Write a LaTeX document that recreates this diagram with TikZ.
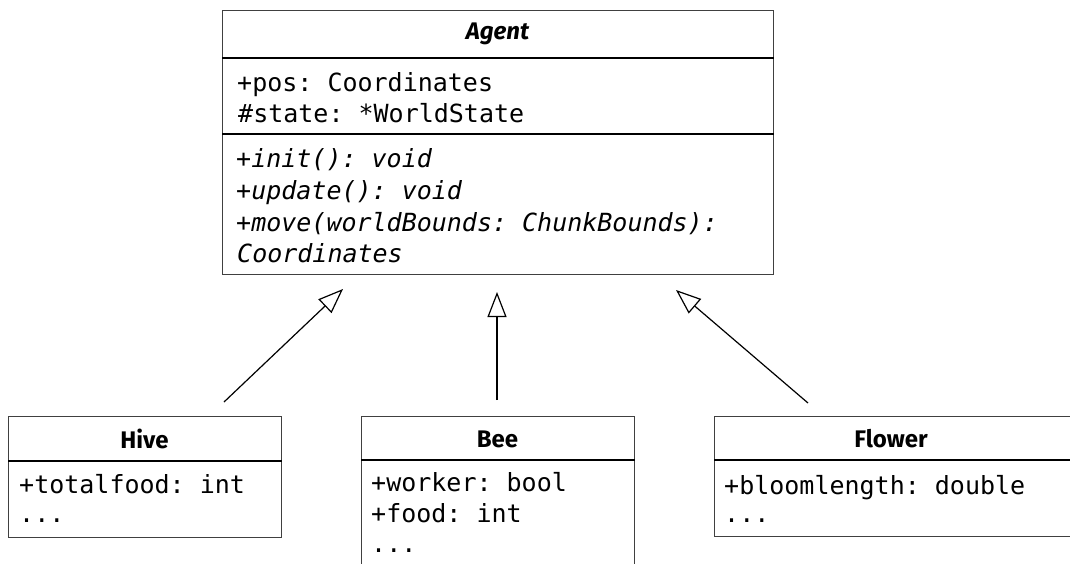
\documentclass[tikz,border=0pt]{standalone}
\usepackage{fontspec}
\setmainfont{Fira Sans}
\setmonofont{DejaVu Sans Mono}
\usetikzlibrary{arrows.meta}
\tikzset{
  classbox/.style={draw=black!75, line width=1.2pt, anchor=north west, inner sep=0pt},
  divider/.style={draw=black, line width=1.2pt},
  ttl/.style={font=\fontsize{24}{28}\selectfont\bfseries, inner sep=0pt},
  mem/.style={font=\fontsize{25}{30}\selectfont\ttfamily, anchor=base west, inner sep=0pt},
  memit/.style={font=\fontsize{25}{30}\selectfont\ttfamily\itshape, anchor=base west, inner sep=0pt},
  inherit/.style={draw=black, line width=1.2pt, -{Triangle[open, length=25pt, width=19pt, line width=1.2pt]}},
}
\begin{document}
\begin{tikzpicture}[x=1pt, y=-1pt]
\useasboundingbox (0,0) rectangle (1070,563);
\clip (0,0) rectangle (1070,563);
% Agent
\node[classbox, minimum width=551pt, minimum height=264pt] (agent) at (222,10) {};
\draw[divider] (agent.west |- 0,58) -- (agent.east |- 0,58);
\draw[divider] (agent.west |- 0,134) -- (agent.east |- 0,134);
\node[ttl] (agentT) at (497.5,34) {\itshape Agent};
\node[mem] (a1) at (237,91) {+pos: Coordinates};
\node[mem] (a2) at (238,122) {\#state: *WorldState};
\node[memit] (a3) at (236,167) {+init(): void};
\node[memit] (a4) at (236,199) {+update(): void};
\node[memit] (a5) at (236,231) {+move(worldBounds: ChunkBounds):};
\node[memit] (a6) at (237,262) {Coordinates};
% Hive
\node[classbox, minimum width=273pt, minimum height=121pt] (hive) at (8,416) {};
\draw[divider] (hive.west |- 0,461) -- (hive.east |- 0,461);
\node[ttl] (hiveT) at (144.5,439) {Hive};
\node[mem] (h1) at (19,493) {+totalfood: int};
\node[mem] (h2) at (19,522) {...};
% Bee
\node[classbox, minimum width=273pt, minimum height=180pt] (bee) at (361,416) {};
\draw[divider] (bee.west |- 0,460) -- (bee.east |- 0,460);
\node[ttl] (beeT) at (497.5,439) {Bee};
\node[mem] (b1) at (371,491) {+worker: bool};
\node[mem] (b2) at (371,522) {+food: int};
\node[mem] (b3) at (371,552) {...};
% Flower
\node[classbox, minimum width=358pt, minimum height=120pt] (flower) at (714,416) {};
\draw[divider] (flower.west |- 0,460) -- (flower.east |- 0,460);
\node[ttl] (flowerT) at (891,439) {Flower};
\node[mem] (f1) at (724,494) {+bloomlength: double};
\node[mem] (f2) at (724,522) {...};
% arrows
\coordinate (hTail) at (224,402);
\coordinate (hTip) at (343,289);
\coordinate (bTail) at (497,400);
\coordinate (bTip) at (497,292);
\coordinate (fTail) at (808,403);
\coordinate (fTip) at (676,290);
\draw[inherit] (hTail) -- (hTip);
\draw[inherit] (bTail) -- (bTip);
\draw[inherit] (fTail) -- (fTip);
\end{tikzpicture}
\end{document}
